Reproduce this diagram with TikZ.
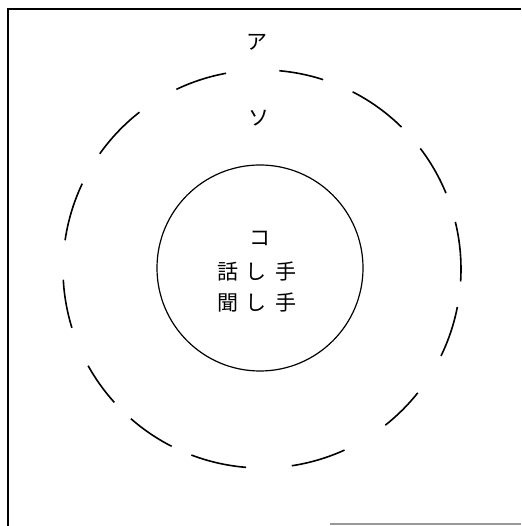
\documentclass[tikz,border=0pt]{standalone}
\usepackage{fontspec}
\newfontfamily\jpfont{Noto Sans CJK JP}
\begin{document}
\begin{tikzpicture}[
  x=1pt,y=1pt,
  word/.style={font=\jpfont\fontsize{21}{21}\selectfont,inner sep=0pt},
  zone/.style={draw=black,line width=1.6pt},
  core/.style={circle,draw=black,line width=1.2pt,inner sep=0pt},
  frame/.style={draw=black,line width=1.8pt}
]
\useasboundingbox (0,0) rectangle (521,526);
% scanned frame: left and top edges, faint piece of the bottom
\coordinate (fbl) at (8,0);
\coordinate (ftl) at (8,517);
\coordinate (ftr) at (521,517);
\draw[frame] (fbl) -- (ftl) -- (ftr);
\coordinate (gl) at (330,2);
\coordinate (gr) at (521,2);
\draw[black!40,line width=1.2pt] (gl) -- (gr);

% outer zone (ア) and middle zone (ソ), the dashed ring drawn by hand
\node[word] (a) at (257,484) {ア};
\coordinate (centre) at (262,257);
\foreach \s/\e in {-3.6/13.7,22.4/37.3,45.5/62.9,72.1/85.0,100.4/115.5,128.0/144.6,
  154.6/171.7,183.1/197.2,209.1/222.1,228.8/243.0,249.2/265.4,278.6/294.5,
  308.3/321.5,334.1/349.0}{
  \draw[zone] (centre) ++(\s:199) arc[start angle=\s,end angle=\e,radius=199];
}
\node[word] (so) at (259,408) {ソ};

% inner zone (コ): speaker and hearer
\node[core,minimum size=206pt] (near) at (260,258) {};
\node[word] (ko) at (260,288) {コ};
\foreach \ch/\x/\n in {話/228/s1,し/256/s2,手/286/s3}{
  \node[word] (\n) at (\x,254) {\ch};
}
\foreach \ch/\x/\n in {聞/228/h1,し/256/h2,手/286/h3}{
  \node[word] (\n) at (\x,223) {\ch};
}
\end{tikzpicture}
\end{document}
